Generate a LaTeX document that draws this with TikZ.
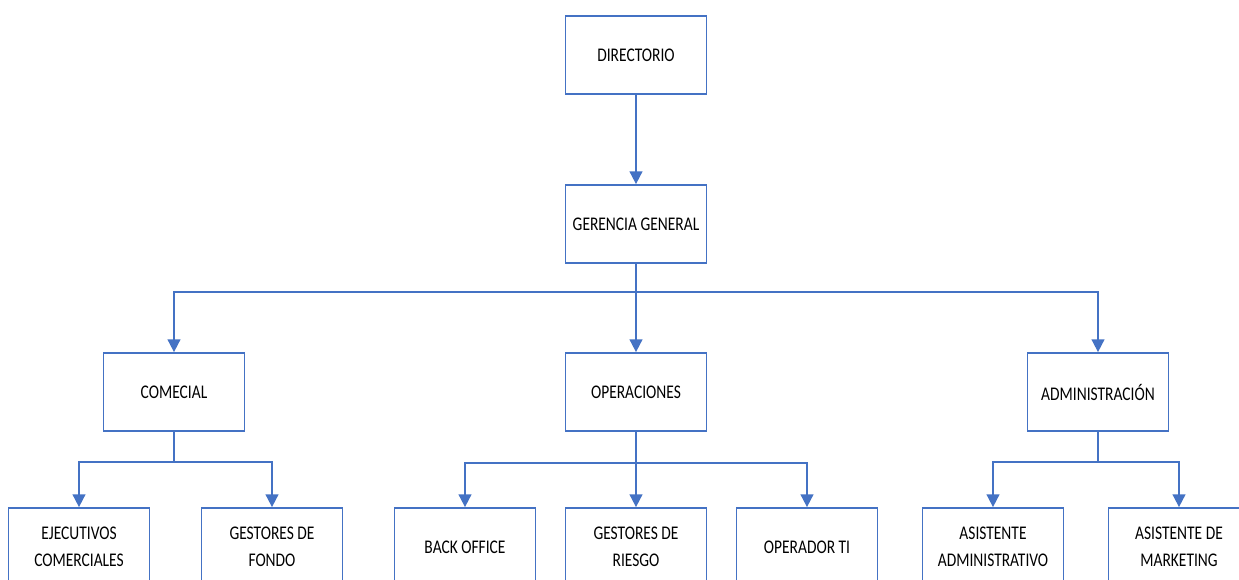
\documentclass[tikz,border=0pt]{standalone}
\usepackage{fontspec}
\setmainfont{Carlito}[FakeStretch=0.8]
\usetikzlibrary{arrows.meta}
\definecolor{lblue}{HTML}{4472C4}
\begin{document}
\begin{tikzpicture}[x=0.75pt,y=-0.75pt,
  box/.style={draw=lblue, line width=1.3pt, fill=white, minimum width=105.75pt, minimum height=58.5pt, inner sep=0pt, align=center, text=black, font=\fontsize{14.5pt}{20.25pt}\selectfont},
  conn/.style={draw=lblue, line width=1.3pt},
  arr/.style={conn, -{Triangle[width=9.5pt,length=9.5pt]}}]
\useasboundingbox (0,0) rectangle (1239,580);
\fill[white] (0,0) rectangle (1239,580);
\clip (0,0) rectangle (1239,580);
\node[box] (dir) at (636,55) {DIRECTORIO};
\node[box] (ger) at (636,224) {GERENCIA GENERAL};
\node[box] (com) at (174,392) {COMECIAL};
\node[box] (ope) at (636,392) {OPERACIONES};
\node[box] (adm) at (1098,392) {ADMINISTRACIÓN};
\node[box] (eje) at (79,547) {EJECUTIVOS\\COMERCIALES};
\node[box] (gfo) at (272,547) {GESTORES DE\\FONDO};
\node[box] (bo) at (465,547) {BACK OFFICE};
\node[box] (gri) at (636,547) {GESTORES DE\\RIESGO};
\node[box] (opt) at (807,547) {OPERADOR TI};
\node[box] (aa) at (993,547) {ASISTENTE\\ADMINISTRATIVO};
\node[box] (am) at (1179,547) {ASISTENTE DE\\MARKETING};
\draw[arr] (dir) -- (ger);
\draw[arr] (ger.south) -- ++(0,28) -| (com.north);
\draw[arr] (ger.south) -- (ope.north);
\draw[arr] (ger.south) -- ++(0,28) -| (adm.north);
\draw[arr] (com.south) -- ++(0,30) -| (eje.north);
\draw[arr] (com.south) -- ++(0,30) -| (gfo.north);
\draw[arr] (ope.south) -- ++(0,31) -| (bo.north);
\draw[arr] (ope.south) -- (gri.north);
\draw[arr] (ope.south) -- ++(0,31) -| (opt.north);
\draw[arr] (adm.south) -- ++(0,30) -| (aa.north);
\draw[arr] (adm.south) -- ++(0,30) -| (am.north);
\end{tikzpicture}
\end{document}
